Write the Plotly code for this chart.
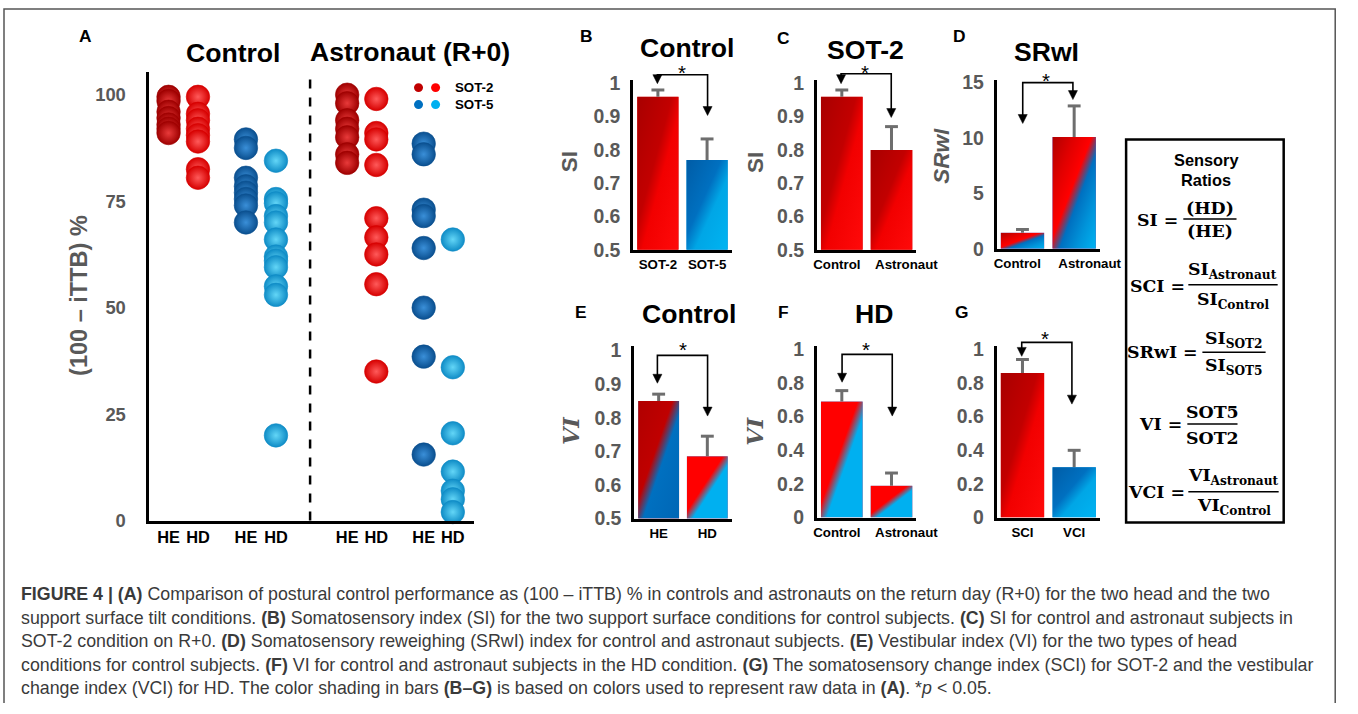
import base64
import plotly.graph_objects as go

# ======================= DATA =======================
# Panel A: (100 - iTTB) % for each subject, by group / SOT condition / head posture
ctrl_sot2_he = [99.5, 98.5, 96, 94.5, 93, 92, 91]
ctrl_sot2_hd = [99.5, 95.5, 94, 92, 90.5, 89, 82.5, 80.5]
ctrl_sot5_he = [89.5, 87.5, 80.5, 78.5, 77, 75.5, 74, 70]
ctrl_sot5_hd = [84.5, 75.5, 74.5, 71.5, 70, 66, 62, 61, 59.5, 55, 53, 20]
astro_sot2_he = [100, 98, 94, 92, 90, 86, 84]
astro_sot2_hd = [99, 91, 89.5, 83.5, 71, 66.5, 62.5, 55.5, 35]
astro_sot5_he = [88.5, 86, 73, 71.5, 64, 50, 38.5, 15.5]
astro_sot5_hd = [66, 36, 20.5, 11.5, 7, 5, 2]
a_groups = ["Control", "Astronaut (R+0)"]
head_labels = ["HE", "HD", "HE", "HD", "HE", "HD", "HE", "HD"]
a_yticks = [0, 25, 50, 75, 100]

# Panels B-G: mean index values and upper error
b_cats = ["SOT-2", "SOT-5"]
b_vals = [0.96, 0.77]
b_err = [0.02, 0.063]

c_cats = ["Control", "Astronaut"]
c_vals = [0.96, 0.80]
c_err = [0.02, 0.07]

d_cats = ["Control", "Astronaut"]
d_vals = [1.45, 10.1]
d_err = [0.3, 2.8]

e_cats = ["HE", "HD"]
e_vals = [0.85, 0.685]
e_err = [0.02, 0.06]

f_cats = ["Control", "Astronaut"]
f_vals = [0.69, 0.19]
f_err = [0.065, 0.075]

g_cats = ["SCI", "VCI"]
g_vals = [0.86, 0.30]
g_err = [0.08, 0.10]

si_ticks = [0.5, 0.6, 0.7, 0.8, 0.9, 1]
srwi_ticks = [0, 5, 10, 15]
vi_ticks = [0, 0.2, 0.4, 0.6, 0.8, 1]

caption_lines = [
    "<b>FIGURE 4 | (A)</b> Comparison of postural control performance as (100 – iTTB) % in controls and astronauts on the return day (R+0) for the two head and the two",
    "support surface tilt conditions. <b>(B)</b> Somatosensory index (SI) for the two support surface conditions for control subjects. <b>(C)</b> SI for control and astronaut subjects in",
    "SOT-2 condition on R+0. <b>(D)</b> Somatosensory reweighing (SRwI) index for control and astronaut subjects. <b>(E)</b> Vestibular index (VI) for the two types of head",
    "conditions for control subjects. <b>(F)</b> VI for control and astronaut subjects in the HD condition. <b>(G)</b> The somatosensory change index (SCI) for SOT-2 and the vestibular",
    "change index (VCI) for HD. The color shading in bars <b>(B–G)</b> is based on colors used to represent raw data in <b>(A)</b>. *<i>p</i> &lt; 0.05.",
]

# ======================= STYLE / LAYOUT =======================
W, H = 1358, 714
# positions below are measured on the target picture; the photographed page comes out
# slightly reduced and offset, so target pixels are mapped back onto the page
SC, OFF = 0.978, 7.0
FONT = "Liberation Sans, Arial, sans-serif"
SERIF = "DejaVu Serif, serif"
GRAY = "#595959"
ERRC = "#6e6e6e"


def pg(r):
    return (r - OFF) / SC


def fs(v):
    return round(v / SC, 2)


def fx(x):
    return pg(x) / W


def fy(y):
    return 1 - pg(y) / H


fig = go.Figure()
annotations, shapes, images = [], [], []
layout_axes = {}


def ann(x, y, text, size, color="black", bold=True, family=FONT, xanchor="center",
        yanchor="middle", angle=0, italic=False):
    annotations.append(dict(
        x=fx(x), y=fy(y), xref="paper", yref="paper", text=text, showarrow=False,
        font=dict(family=family, size=fs(size), color=color,
                  weight="bold" if bold else "normal",
                  style="italic" if italic else "normal"),
        xanchor=xanchor, yanchor=yanchor, textangle=angle))


def add_axes(n, xpx, ypx, xr, yr, tickvals_x, ticktext_x, xfont, tickvals_y, ytick_size, ystandoff):
    sx = "" if n == 1 else str(n)
    layout_axes["xaxis" + sx] = dict(
        domain=[fx(xpx[0]), fx(xpx[1])], range=xr, anchor="y" + sx,
        showgrid=False, zeroline=False, showline=True, linecolor="black", linewidth=3,
        ticks="", tickvals=tickvals_x, ticktext=ticktext_x, tickangle=0,
        tickfont=dict(family=FONT, size=fs(xfont), color="black", weight="bold"), fixedrange=True)
    layout_axes["yaxis" + sx] = dict(
        domain=[fy(ypx[1]), fy(ypx[0])], range=yr, anchor="x" + sx,
        showgrid=False, zeroline=False, showline=True, linecolor="black", linewidth=3,
        ticks="", tickvals=tickvals_y, ticktext=[f"{v:g}" for v in tickvals_y],
        ticklabelstandoff=round(ystandoff / SC),
        tickfont=dict(family=FONT, size=fs(ytick_size), color=GRAY, weight="bold"), fixedrange=True)
    return ("x" + sx, "y" + sx)


# ---------------- Panel A ----------------
col_pos = [1, 2, 3.63, 4.65, 7.07, 8.06, 9.67, 10.66]
xa, ya = add_axes(1, (152, 476), (71, 522), [0.32, 11.37], [0, 105.4],
                  col_pos, head_labels, 16, a_yticks, 18, 16)

a_series = [ctrl_sot2_he, ctrl_sot2_hd, ctrl_sot5_he, ctrl_sot5_hd,
            astro_sot2_he, astro_sot2_hd, astro_sot5_he, astro_sot5_hd]
ball_style = [("#9e0000", "#e83a3a"), ("#d60000", "#ff5a5a"),
              ("#0a4f8f", "#3a8fd8"), ("#0f8cc6", "#63d6f7")]
for i, vals in enumerate(a_series):
    edge, center = ball_style[i % 4]
    fig.add_trace(go.Scatter(
        x=[col_pos[i]] * len(vals), y=vals, mode="markers", xaxis=xa, yaxis=ya,
        cliponaxis=False, showlegend=False, hoverinfo="skip",
        marker=dict(size=fs(23), color=edge, gradient=dict(type="radial", color=center),
                    line=dict(width=0.6, color=edge))))

# dashed divider between groups
shapes.append(dict(type="line", xref="x", yref="paper", x0=5.81, x1=5.81,
                   y0=fy(522), y1=fy(70), line=dict(color="black", width=2.5, dash="dash")))

ann(89, 35, "A", 17)
ann(236, 52, a_groups[0], 26)
ann(413, 51, a_groups[1], 26)
ann(82, 296, "(100 – iTTB) %", 23, color=GRAY, angle=-90)

# legend for panel A
for cy, cols, lab in [(87, ("#c00000", "#ff0000"), "SOT-2"), (104, ("#0070c0", "#00b0f0"), "SOT-5")]:
    for cx, c in zip((421, 438), cols):
        shapes.append(dict(type="circle", xref="paper", yref="paper",
                           x0=fx(cx - 4.5), x1=fx(cx + 4.5), y0=fy(cy + 4.5), y1=fy(cy - 4.5),
                           fillcolor=c, line=dict(width=0)))
    ann(455, cy, lab, 13, xanchor="left")

# ---------------- Bar panels B-G ----------------
def grad_uri(stops):
    s = "".join(f'<stop offset="{o}" stop-color="{c}"/>' for o, c in stops)
    svg = ('<svg xmlns="http://www.w3.org/2000/svg" width="100" height="100" viewBox="0 0 100 100" '
           'preserveAspectRatio="none"><defs><linearGradient id="g" x1="0" y1="0" x2="1" y2="1">'
           f'{s}</linearGradient></defs><rect x="0" y="0" width="100" height="100" fill="url(#g)"/></svg>')
    return "data:image/svg+xml;base64," + base64.b64encode(svg.encode()).decode()

RED = ([(0, "#a80000"), (0.42, "#c20000"), (0.56, "#f20000"), (1, "#ff0a0a")], "#d80000")
BLUE = ([(0, "#005ca6"), (0.42, "#0070c0"), (0.6, "#00a6e6"), (1, "#00b4f2")], "#0088d4")
DRDB = ([(0, "#b00000"), (0.42, "#c00000"), (0.56, "#0070c0"), (1, "#0066b5")], "#6a3a70")
RLB = ([(0, "#ff0000"), (0.44, "#ff0000"), (0.57, "#00b0f0"), (1, "#00b0f0")], "#8060a0")
MIX = ([(0, "#b00000"), (0.25, "#e00000"), (0.45, "#ff0000"), (0.58, "#0070c0"),
        (0.78, "#0094da"), (1, "#00b4f2")], "#8040a0")

BAR_W = 0.84
CENTERED = [0, 0]
SPREAD = [-0.1, 0.3]   # long category labels sit slightly apart, as in the original
panels = [
    # n, letter, title, cats, vals, err, xpx, ypx, yrange, ticks, grads, letter pos, title pos, ytitle, bracket, label shift
    (2, "B", "Control", b_cats, b_vals, b_err, (635, 733), (79, 250), [0.5, 1.011], si_ticks,
     (RED, BLUE), (588, 35), (688, 47), ("SI", 571, 162, FONT, False),
     (659, 709, 74, 83, 115, 684, 65), CENTERED),
    (3, "C", "SOT-2", c_cats, c_vals, c_err, (818, 917), (79, 250), [0.5, 1.011], si_ticks,
     (RED, RED), (785, 37), (866, 49), ("SI", 757, 162, FONT, False),
     (842, 892, 73, 83, 117, 866, 65), SPREAD),
    (4, "D", "SRwI", d_cats, d_vals, d_err, (997, 1100), (79, 249), [0, 15.27], srwi_ticks,
     (MIX, MIX), (960, 35), (1047, 51), ("SRwI", 942, 155, FONT, True),
     (1023, 1073, 82, 123, 99, 1046, 73), SPREAD),
    (5, "E", "Control", e_cats, e_vals, e_err, (636, 733), (347, 520), [0.5, 1.012], si_ticks,
     (DRDB, RLB), (583, 312), (690, 314), ("VI", 573, 432, SERIF, True),
     (659, 709, 356, 384, 417, 685, 343), CENTERED),
    (6, "F", "HD", f_cats, f_vals, f_err, (818, 917), (347, 519), [0, 1.018], vi_ticks,
     (RLB, RLB), (785, 312), (875, 314), ("VI", 756, 432, SERIF, True),
     (843, 893, 355, 383, 417, 867, 343), SPREAD),
    (7, "G", None, g_cats, g_vals, g_err, (997, 1100), (347, 519), [0, 1.018], vi_ticks,
     (RED, BLUE), (962, 312), None, None,
     (1022, 1072, 343, 357, 405, 1045, 332), CENTERED),
]

for (n, letter, title, cats, vals, err, xpx, ypx, yr, yt, grads, lpos, tpos, ytl, br, shift) in panels:
    xs = list(range(len(cats)))
    xr_, yr_ = add_axes(n, xpx, ypx, [-0.5, 1.5], yr, [x + s for x, s in zip(xs, shift)],
                        cats, 13, yt, 19, 6)
    fig.add_trace(go.Bar(x=xs, y=vals, width=BAR_W, xaxis=xr_, yaxis=yr_, showlegend=False,
                         marker=dict(color=[g[1] for g in grads], line=dict(width=0)),
                         hoverinfo="skip"))
    # gradient fill laid exactly over each bar, positioned in the panel's data coordinates
    for xi, v, g in zip(xs, vals, grads):
        bottom = max(0, yr[0])
        images.append(dict(source=grad_uri(g[0]), xref=xr_, yref=yr_, x=xi - BAR_W / 2, y=v,
                           sizex=BAR_W, sizey=v - bottom, xanchor="left", yanchor="top",
                           sizing="stretch", layer="above"))
    # one-sided error bars
    ex, ey = [], []
    for xi, v, e in zip(xs, vals, err):
        ex += [xi, xi, None]
        ey += [v, v + e, None]
    fig.add_trace(go.Scatter(x=ex, y=ey, mode="lines", xaxis=xr_, yaxis=yr_, showlegend=False,
                             line=dict(color=ERRC, width=3), hoverinfo="skip", cliponaxis=False))
    fig.add_trace(go.Scatter(x=xs, y=[v + e for v, e in zip(vals, err)], mode="markers",
                             xaxis=xr_, yaxis=yr_, showlegend=False, hoverinfo="skip",
                             cliponaxis=False,
                             marker=dict(symbol="line-ew", size=fs(9), line=dict(color=ERRC, width=3))))
    ann(lpos[0], lpos[1], letter, 17)
    if title:
        ann(tpos[0], tpos[1], title, 26)
    if ytl:
        ann(ytl[1], ytl[2], ytl[0], 22, color=GRAY, family=ytl[3], italic=ytl[4], angle=-90)
    # significance bracket with arrows
    xl, xrr, ytop, tipl, tipr, sx, sy = br
    ah = 9
    shapes.append(dict(type="path", xref="paper", yref="paper",
                       path=(f"M{fx(xl)},{fy(tipl - ah + 1)} L{fx(xl)},{fy(ytop)} "
                             f"L{fx(xrr)},{fy(ytop)} L{fx(xrr)},{fy(tipr - ah + 1)}"),
                       line=dict(color="black", width=1.6)))
    for tx, ty in ((xl, tipl), (xrr, tipr)):
        shapes.append(dict(type="path", xref="paper", yref="paper",
                           path=(f"M{fx(tx - 4.5)},{fy(ty - ah)} L{fx(tx + 4.5)},{fy(ty - ah)} "
                                 f"L{fx(tx)},{fy(ty)} Z"),
                           fillcolor="black", line=dict(color="black", width=0.5)))
    ann(sx, sy + 7, "*", 20, bold=False)

# ---------------- Sensory ratios box ----------------
shapes.append(dict(type="rect", xref="paper", yref="paper", x0=fx(1126), x1=fx(1283),
                   y0=fy(524), y1=fy(139), line=dict(color="black", width=2.5)))
ann(1206, 160, "Sensory", 16)
ann(1206, 180, "Ratios", 16)

EQ = 17
eqs = [
    ("SI =", 1180, 220, "(HD)", "(HE)", (1183, 1236), 219, 208, 231),
    ("SCI =", 1187, 286, "SI<sub>Astronaut</sub>", "SI<sub>Control</sub>", (1188, 1277), 285, 271, 301),
    ("SRwI =", 1200, 353, "SI<sub>SOT2</sub>", "SI<sub>SOT5</sub>", (1202, 1265), 353, 340, 367),
    ("VI =", 1184, 425, "SOT5", "SOT2", (1187, 1237), 425, 413, 439),
    ("VCI =", 1187, 493, "VI<sub>Astronaut</sub>", "VI<sub>Control</sub>", (1188, 1278), 493, 478, 508),
]
for lhs, lx, ly, num, den, (l0, l1), liney, numy, deny in eqs:
    ann(lx, ly, lhs, EQ, family=SERIF, xanchor="right")
    shapes.append(dict(type="line", xref="paper", yref="paper", x0=fx(l0), x1=fx(l1),
                       y0=fy(liney), y1=fy(liney), line=dict(color="black", width=1.5)))
    cx = (l0 + l1) / 2
    ann(cx, numy, num, EQ, family=SERIF)
    ann(cx, deny, den, EQ, family=SERIF)

# ---------------- Caption ----------------
for i, line in enumerate(caption_lines):
    ann(23, 596 + i * 23.6, line, 17.4, color="#3a3a3a", bold=False, xanchor="left")

# outer frame (open at the bottom edge of the page)
x_left, x_right = fx(8), min(fx(1353), 1357.2 / W)
shapes.append(dict(type="path", xref="paper", yref="paper",
                   path=f"M{x_left},0 L{x_left},{fy(8)} L{x_right},{fy(8)} L{x_right},0",
                   line=dict(color="#555555", width=1.5)))

fig.update_layout(
    width=W, height=H, margin=dict(l=0, r=0, t=0, b=0),
    paper_bgcolor="white", plot_bgcolor="rgba(0,0,0,0)",
    showlegend=False, annotations=annotations, shapes=shapes, images=images,
    font=dict(family=FONT), **layout_axes)

fig.write_html(
    "out.html",
    config={"displayModeBar": False},
    post_script=("document.body.style.margin='0';document.body.style.overflow='hidden';"
                 "document.documentElement.style.overflow='hidden';"))
